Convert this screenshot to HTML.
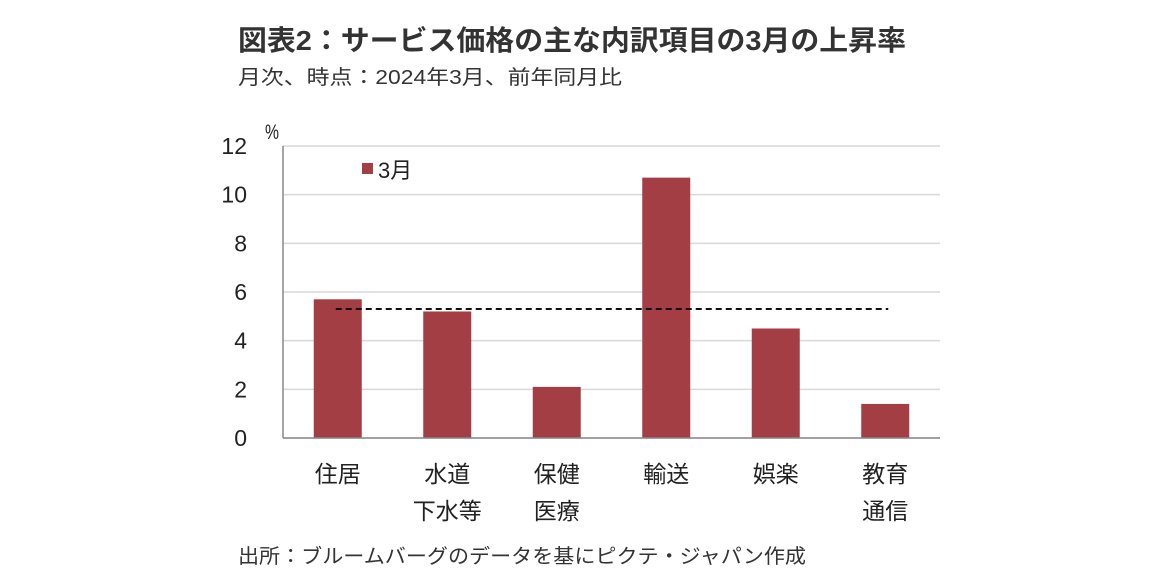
<!DOCTYPE html>
<html><head><meta charset="utf-8"><style>
html,body{margin:0;padding:0;background:#fff;}
svg{display:block;font-family:"Liberation Sans","Noto Sans CJK JP",sans-serif;}
</style></head><body>
<svg id="chart" width="1152" height="584" viewBox="0 0 1152 584">
<text x="238" y="50" font-size="28" font-weight="bold" fill="#333" textLength="668" lengthAdjust="spacingAndGlyphs">図表2：サービス価格の主な内訳項目の3月の上昇率</text>
<text x="238" y="84" font-size="20" fill="#333" textLength="384" lengthAdjust="spacingAndGlyphs">月次、時点：2024年3月、前年同月比</text>
<text x="265" y="139" font-size="21" fill="#222" textLength="14" lengthAdjust="spacingAndGlyphs">%</text>
<g id="grid"></g>
<g id="yticks"></g>
<g id="bars"></g>
<g id="xlabels"></g>
<line id="yaxis" stroke="#888" stroke-width="1.5"/>
<line id="xaxis" stroke="#888" stroke-width="1.5"/>
<line id="avgline" stroke="#111" stroke-width="2" stroke-dasharray="6,4"/>
<g>
<rect x="362" y="163" width="11" height="11" fill="#a23e44"/>
<text x="378" y="178" font-size="22" fill="#222">3月</text>
</g>
<text x="238" y="563" font-size="20" fill="#333" textLength="568" lengthAdjust="spacingAndGlyphs">出所：ブルームバーグのデータを基にピクテ・ジャパン作成</text>
</svg>
<script>
const categories = [["住居"],["水道","下水等"],["保健","医療"],["輸送"],["娯楽"],["教育","通信"]];
const values = [5.7, 5.2, 2.1, 10.7, 4.5, 1.4];
const avgValue = 5.3;
const yTicks = [0,2,4,6,8,10,12];
const NS="http://www.w3.org/2000/svg";
const x0=283,x1=940,yBase=438,yTop=146,yMax=12;
const y=v=>yBase-(v/yMax)*(yBase-yTop);
const band=(x1-x0)/categories.length;
const xc=i=>x0+band*(i+0.5);
function mk(t,a,p){const e=document.createElementNS(NS,t);for(const k in a)e.setAttribute(k,a[k]);p.appendChild(e);return e;}
const grid=document.getElementById('grid'),yt=document.getElementById('yticks');
yTicks.forEach(v=>{
 const l=mk('line',{x1:x0,x2:x1,y1:y(v),y2:y(v),stroke:'#d9d9d9','stroke-width':1.5},grid);
 
 
 const t=mk('text',{x:247,y:y(v)+8,'font-size':23,'text-anchor':'end',fill:'#222'},yt);
 t.textContent=v;
 
 
});
const bars=document.getElementById('bars'),xl=document.getElementById('xlabels');
values.forEach((v,i)=>{
 const r=mk('rect',{x:xc(i)-24,y:y(v),width:48,height:yBase-y(v),fill:'#a23e44'},bars);
 
 
 categories[i].forEach((s,j)=>{
  const t=mk('text',{x:xc(i),y:482+j*37,'font-size':23,'text-anchor':'middle',fill:'#222'},xl);
  t.textContent=s;
  
  
 });
});
const ya=document.getElementById('yaxis');ya.setAttribute('x1',x0);ya.setAttribute('x2',x0);ya.setAttribute('y1',yTop);ya.setAttribute('y2',yBase);
const xa=document.getElementById('xaxis');xa.setAttribute('x1',x0);xa.setAttribute('x2',x1);xa.setAttribute('y1',yBase);xa.setAttribute('y2',yBase);
const av=document.getElementById('avgline');av.setAttribute('x1',xc(0)-2);av.setAttribute('x2',xc(5)+3);av.setAttribute('y1',y(avgValue));av.setAttribute('y2',y(avgValue));
</script>
</body></html>
